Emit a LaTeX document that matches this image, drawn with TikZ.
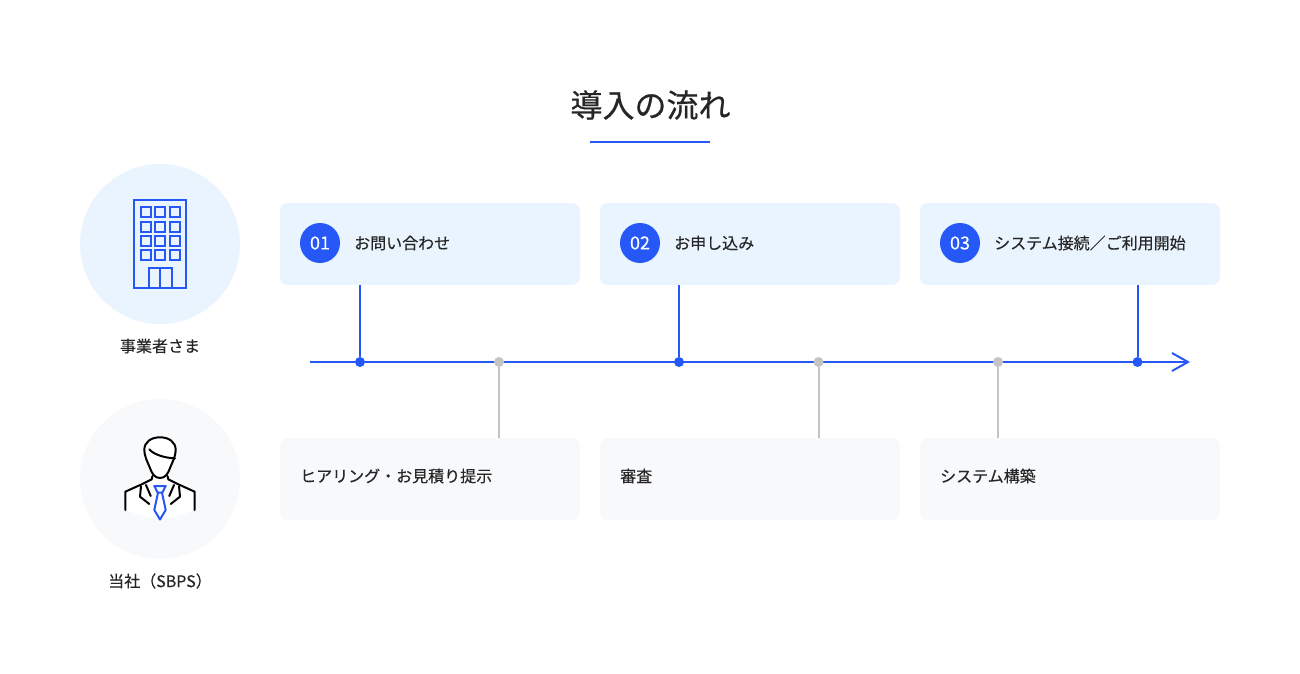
\documentclass[tikz,border=0pt]{standalone}
\usepackage{fontspec}
\setmainfont{Noto Sans CJK JP}
\newfontfamily\medfont[FakeBold=0.25]{Noto Sans CJK JP}
\newfontfamily\headfont[FakeBold=0.5]{Noto Sans CJK JP}
\usetikzlibrary{arrows.meta}
\definecolor{lineblue}{HTML}{2558F6}
\definecolor{paleblue}{HTML}{E9F4FE}
\definecolor{palegray}{HTML}{F8F9FB}
\definecolor{dotgray}{HTML}{C4C4C4}
\definecolor{inkgray}{HTML}{262626}
\tikzset{
  stepbox/.style={fill=paleblue,rounded corners=8pt,minimum width=300pt,minimum height=82pt,inner sep=0pt},
  sbpsbox/.style={stepbox,fill=palegray},
  stepnum/.style={circle,fill=lineblue,text=white,minimum size=40pt,inner sep=0pt,font=\medfont\fontsize{18pt}{18pt}\selectfont},
  steptext/.style={anchor=west,inner sep=0pt,text=inkgray,font=\medfont\fontsize{16pt}{18pt}\selectfont},
  sidetext/.style={inner sep=0pt,text=inkgray,font=\medfont\fontsize{16pt}{18pt}\selectfont},
  bluedot/.style={circle,fill=lineblue,minimum size=10pt,inner sep=0pt},
  graydot/.style={circle,fill=dotgray,minimum size=10pt,inner sep=0pt},
  blueline/.style={draw=lineblue,line width=2pt},
  grayline/.style={draw=dotgray,line width=2pt},
  bldg/.style={draw=lineblue,line width=2pt},
  bldgwin/.style={draw=lineblue,line width=2pt},
  man/.style={draw=black,line width=2pt,line join=round,line cap=round},
}
\begin{document}
\begin{tikzpicture}[x=1pt,y=-1pt]
\useasboundingbox (0,0) rectangle (1300,674);
%% title
\node (title) at (650.500,105) [inner sep=0pt,text=inkgray,font=\headfont\fontsize{32pt}{36pt}\selectfont] {導入の流れ};
\coordinate (rule_l) at (590,141.5);
\coordinate (rule_r) at (710,141.5);
\draw [blueline] (rule_l) -- (rule_r);
%% left side
\node (circle_a) at (160,244) [circle,fill=paleblue,minimum size=160pt,inner sep=0pt] {};
\node (circle_b) at (160,479) [circle,fill=palegray,minimum size=160pt,inner sep=0pt] {};
\node (side_a) at (160,346) [sidetext] {事業者さま};
\node (side_b) at (160,581) [sidetext] {当社（SBPS）};
%% building
\draw [bldg] (134,200) rectangle (186,288);
\foreach \wy in {207,221.5,236,250} {
  \foreach \wx in {141,155,170} {
    \draw [bldgwin] (\wx,\wy) rectangle (\wx+10,\wy+10);
  }
}
\draw [bldg] (148.500,288) -- (148.500,268) -- (171.500,268) -- (171.500,288);
\draw [bldg] (160,268) -- (160,288);
%% person
\fill [white] (125.300,491.700) -- (141.700,484.300) -- (160,478) -- (178.300,484.300) -- (194.700,491.700) -- (194.700,510) .. controls (180,516) and (170,518) .. (160,518) .. controls (150,518) and (140,516) .. (125.300,510) -- cycle;
\draw [man,fill=white] (150,468) .. controls (147.500,462) and (144.300,456) .. (144.300,450) .. controls (144.300,442) and (151,437.300) .. (160,437.300) .. controls (169,437.300) and (175.700,442) .. (175.700,450) .. controls (175.700,456) and (172.500,462) .. (170,468) .. controls (168,474) and (165,478) .. (160,478) .. controls (155,478) and (152,474) .. (150,468) -- cycle;
\draw [man] (149.300,449.300) .. controls (153,454) and (164,458) .. (175,458.300);
\draw [man] (125.300,510) -- (125.300,491.700) -- (141.700,484.300) -- (151.700,479.300) -- (152.500,476);
\draw [man] (194.700,510) -- (194.700,491.700) -- (178.300,484.300) -- (168.300,479.300) -- (167.500,476);
\draw [man] (141,486) -- (140,496.700) -- (149.300,504);
\draw [man] (179,486) -- (180,496.700) -- (170.700,504);
\draw [man] (146,485) -- (150.700,496);
\draw [man] (174,485) -- (169.300,496);
\draw [blueline,line join=round] (154.300,486) -- (165.700,486) -- (162.300,492.700) -- (157.700,492.700) -- cycle;
\draw [blueline,line join=round] (158,492.700) -- (154.300,510) -- (160,519.500) -- (165.700,510) -- (162,492.700);
%% steps
\node (step_1) at (430,244) [stepbox] {};
\node (step_2) at (750,244) [stepbox] {};
\node (step_3) at (1070,244) [stepbox] {};
\node (num_1) at (320,243) [stepnum] {01};
\node (num_2) at (640,243) [stepnum] {02};
\node (num_3) at (960,243) [stepnum] {03};
\node (text_1) at (354,243) [steptext] {お問い合わせ};
\node (text_2) at (674,243) [steptext] {お申し込み};
\node (text_3) at (994,243) [steptext] {システム接続／ご利用開始};
\node (work_1) at (430,479) [sbpsbox] {};
\node (work_2) at (750,479) [sbpsbox] {};
\node (work_3) at (1070,479) [sbpsbox] {};
\node (wtext_1) at (300,476) [steptext] {ヒアリング・お見積り提示};
\node (wtext_2) at (620,476) [steptext] {審査};
\node (wtext_3) at (940,476) [steptext] {システム構築};
%% time axis
\coordinate (axis_l) at (310,362);
\coordinate (axis_r) at (1190,362);
\draw [blueline,-{Straight Barb[length=16pt,width=18pt]}] (axis_l) -- (axis_r);
\node (dot_1) at (360,362) [bluedot] {};
\node (dot_2) at (499,362) [graydot] {};
\node (dot_3) at (679,362) [bluedot] {};
\node (dot_4) at (818.500,362) [graydot] {};
\node (dot_5) at (998,362) [graydot] {};
\node (dot_6) at (1137.500,362) [bluedot] {};
\draw [blueline] (step_1.south -| dot_1) -- (dot_1);
\draw [blueline] (step_2.south -| dot_3) -- (dot_3);
\draw [blueline] (step_3.south -| dot_6) -- (dot_6);
\draw [grayline] (dot_2) -- (work_1.north -| dot_2);
\draw [grayline] (dot_4) -- (work_2.north -| dot_4);
\draw [grayline] (dot_5) -- (work_3.north -| dot_5);
%
\end{tikzpicture}
\end{document}
